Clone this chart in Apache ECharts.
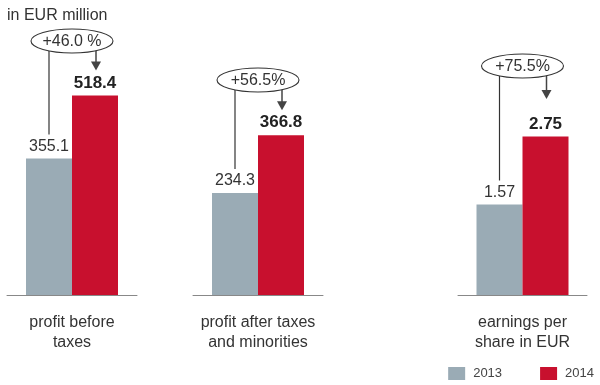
<!DOCTYPE html>
<html>
<head>
<meta charset="utf-8">
<script src="https://cdn.jsdelivr.net/npm/echarts@6/dist/echarts.min.js"></script>
<style>
  html, body { margin: 0; padding: 0; background: #fff; }
  #chart { width: 600px; height: 385px; }
</style>
</head>
<body>
<div id="chart"></div>
<script>
// ---- data ----
const categories = ['profit before\ntaxes', 'profit after taxes\nand minorities', 'earnings per\nshare in EUR'];
const years = ['2013', '2014'];
const values2013 = [355.1, 234.3, 1.57];
const values2014 = [518.4, 366.8, 2.75];
const changeLabels = ['+46.0 %', '+56.5%', '+75.5%'];
const unitLabel = 'in EUR million';

// ---- layout / style ----
const FONT = "'Liberation Sans', Arial, sans-serif";
const GRAY = '#9aabb5';
const RED = '#c8102e';
const gridLayout = [
  { left: 7, width: 130 },
  { left: 193, width: 130 },
  { left: 458, width: 129 }
];
const yMax = [715, 631, 4.77];
const annotY = [41, 80, 66];
const BAR_W = 46;

const chart = echarts.init(document.getElementById('chart'), null, { renderer: 'canvas' });

const series = [];
categories.forEach((c, i) => {
  series.push({
    name: years[0], type: 'bar', xAxisIndex: i, yAxisIndex: i,
    data: [values2013[i]], barWidth: BAR_W, barGap: '0%',
    itemStyle: { color: GRAY },
    label: { show: true, position: 'top', distance: 4, fontSize: 16, color: '#333', fontFamily: FONT }
  });
  series.push({
    name: years[1], type: 'bar', xAxisIndex: i, yAxisIndex: i,
    data: [values2014[i]], barWidth: BAR_W, barGap: '0%',
    itemStyle: { color: RED },
    label: { show: true, position: 'top', distance: 4, fontSize: 17, fontWeight: 'bold', color: '#222', fontFamily: FONT }
  });
});

chart.setOption({
  animation: false,
  textStyle: { fontFamily: FONT },
  title: {
    text: unitLabel, left: 2, top: 3,
    textStyle: { fontSize: 16, fontWeight: 'normal', color: '#333', fontFamily: FONT }
  },
  legend: {
    data: years, left: 'auto', right: 6, top: 367, padding: 0,
    itemWidth: 17, itemHeight: 13, itemGap: 38,
    icon: 'rect',
    textStyle: { fontSize: 13, color: '#444', fontFamily: FONT, padding: [0, 0, 0, 3] }
  },
  grid: gridLayout.map(g => ({ left: g.left, width: g.width, top: 20, bottom: 90 })),
  xAxis: categories.map((c, i) => ({
    type: 'category', gridIndex: i, data: [c],
    axisLine: { lineStyle: { color: '#888', width: 1 } },
    axisTick: { show: false },
    axisLabel: { fontSize: 16, lineHeight: 20, color: '#333', margin: 18, fontFamily: FONT }
  })),
  yAxis: yMax.map((m, i) => ({
    type: 'value', gridIndex: i, min: 0, max: m, show: false, splitLine: { show: false }
  })),
  series: series
});

// ---- annotations (ellipse with change, connector line, arrow) ----
const RX = 41, RY = 12, DX = 23, ARROW_LEN = 23;
const graphics = [];
categories.forEach((c, i) => {
  const base = chart.convertToPixel({ gridIndex: i }, [0, 0]);
  const cx = base[0];
  const grayTop = chart.convertToPixel({ gridIndex: i }, [0, values2013[i]])[1];
  const redTop = chart.convertToPixel({ gridIndex: i }, [0, values2014[i]])[1];
  const cy = annotY[i];
  const edge = RY * Math.sqrt(1 - (DX / RX) * (DX / RX));
  const gx = cx - DX, rx = cx + DX + 1;
  graphics.push({
    type: 'line', z: 100,
    shape: { x1: gx, y1: cy + edge - 1, x2: gx, y2: grayTop - 24 },
    style: { stroke: '#333', lineWidth: 1.2 }
  });
  const tip = Math.min(cy + edge + ARROW_LEN, redTop - 25);
  graphics.push({
    type: 'line', z: 100,
    shape: { x1: rx, y1: cy + edge - 1, x2: rx, y2: tip - 8 },
    style: { stroke: '#444', lineWidth: 1.5 }
  });
  graphics.push({
    type: 'polygon', z: 100,
    shape: { points: [[rx - 5, tip - 9], [rx + 5, tip - 9], [rx, tip]] },
    style: { fill: '#444' }
  });
  graphics.push({
    type: 'ellipse', z: 101,
    shape: { cx: cx, cy: cy, rx: RX, ry: RY },
    style: { fill: '#fff', stroke: '#333', lineWidth: 1.1 }
  });
  graphics.push({
    type: 'text', z: 102, x: cx, y: cy + 1,
    style: { text: changeLabels[i], fill: '#333', font: '16px ' + FONT, align: 'center', verticalAlign: 'middle' }
  });
});
chart.setOption({ graphic: graphics });
</script>
</body>
</html>
